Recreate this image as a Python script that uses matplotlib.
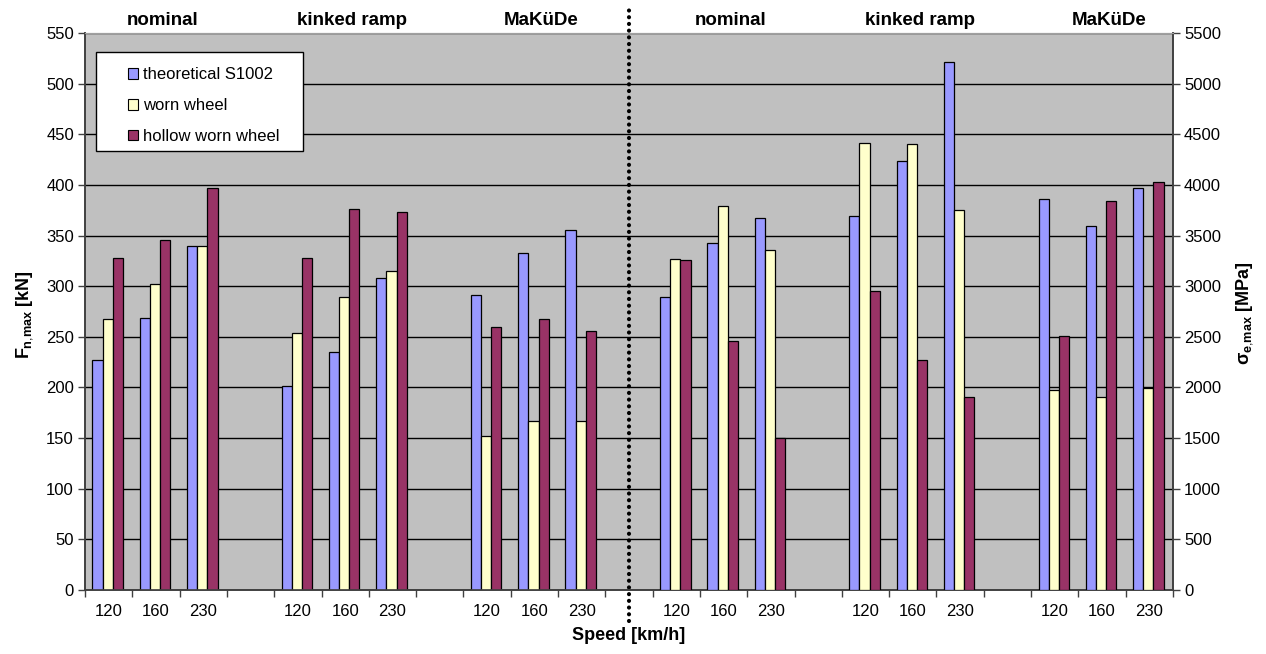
import matplotlib
matplotlib.use("Agg")
import matplotlib.pyplot as plt
import matplotlib.transforms as mtransforms
from matplotlib.patches import Rectangle, Patch
import numpy as np

plt.rcParams['font.family'] = ['Liberation Sans', 'DejaVu Sans']
plt.rcParams['mathtext.fontset'] = 'custom'
plt.rcParams['mathtext.rm'] = 'Liberation Sans'
plt.rcParams['mathtext.it'] = 'Liberation Sans:bold'
plt.rcParams['mathtext.bf'] = 'Liberation Sans:bold'

# data
blocks = ['nominal', 'kinked ramp', 'MaKüDe']
speeds = ['120', '160', '230']
series = ['theoretical S1002', 'worn wheel', 'hollow worn wheel']

# left half: F_n,max [kN]
fn_theo = [227, 269, 340, 201, 235, 308, 291, 333, 355]
fn_worn = [268, 302, 340, 254, 289, 315, 152, 167, 167]
fn_hollow = [328, 346, 397, 328, 376, 373, 260, 268, 256]

# right half: sigma_e,max [MPa]
sig_theo = [2890, 3430, 3670, 3690, 4235, 5210, 3865, 3595, 3970]
sig_worn = [3270, 3790, 3360, 4415, 4400, 3750, 1970, 1905, 1995]
sig_hollow = [3255, 2460, 1500, 2955, 2270, 1905, 2510, 3840, 4030]

colors = ['#9999FF', '#FFFFCC', '#993366']

W, H = 1266, 654
fig = plt.figure(figsize=(W / 100, H / 100), dpi=100)
fig.patch.set_facecolor('white')
L, R, T, B = 85, 1173, 33, 590
ax = fig.add_axes([L / W, 1 - B / H, (R - L) / W, (B - T) / H])
ax.set_facecolor('#C0C0C0')
ax2 = ax.twinx()

# slot positions: 3 speeds per block, one empty slot between blocks
slots_left = np.array([4 * b + j for b in range(3) for j in range(3)])
slots_right = slots_left + 12
bw = 0.215
offs = [-bw, 0, bw]

for k, vals in enumerate([fn_theo, fn_worn, fn_hollow]):
    ax.bar(slots_left + offs[k] - 0.02, vals, width=bw, color=colors[k],
           edgecolor='black', linewidth=0.9, zorder=3)
for k, vals in enumerate([sig_theo, sig_worn, sig_hollow]):
    ax2.bar(slots_right + offs[k] - 0.02, vals, width=bw, color=colors[k],
            edgecolor='black', linewidth=0.9, zorder=3)

ax.set_xlim(-0.5, 22.5)
ax.set_ylim(0, 550)
ax2.set_ylim(0, 5500)
ax.set_yticks(np.arange(0, 551, 50))
ax2.set_yticks(np.arange(0, 5501, 500))
ax.yaxis.grid(True, color='black', linewidth=1)
ax.set_axisbelow(True)

all_slots = np.concatenate([slots_left, slots_right])
ax.set_xticks(all_slots)
ax.set_xticklabels(speeds * 6)
ax.set_xticks(np.arange(-0.5, 23, 1), minor=True)
ax.tick_params(axis='x', which='major', length=0, labelsize=12, pad=10)
ax.tick_params(axis='x', which='minor', length=5, width=1, color='#404040')
ax.tick_params(axis='y', length=5, width=1, color='#404040', labelsize=12, pad=3)
ax2.tick_params(axis='y', length=5, width=1, color='#404040', labelsize=12, pad=3)

for a in (ax, ax2):
    for s in ('left', 'bottom', 'right'):
        a.spines[s].set_color('#404040')
        a.spines[s].set_linewidth(1.2)
    a.spines['top'].set_color('#A0A0A0')

# block titles
trans = mtransforms.blended_transform_factory(ax.transData, ax.transAxes)
for b in range(6):
    ax.text(4 * b + 1 + 0.15, 1.022, blocks[b % 3], transform=trans,
            ha='center', va='center', fontsize=13.5, fontweight='bold')

# dotted separator
ax.plot([11, 11], [-0.055, 1.05], transform=trans, clip_on=False,
        color='black', linewidth=3, linestyle=(0, (0.01, 1.6)),
        dash_capstyle='round', zorder=5)

# axis labels
fig.text(25 / W, 1 - 315 / H, r'$F_{n{,}max}$ [kN]', rotation=90,
         ha='center', va='center', fontsize=13, fontweight='bold')
fig.text(1245 / W, 1 - 313 / H, r'$σ_{e{,}max}$ [MPa]', rotation=90,
         ha='center', va='center', fontsize=13, fontweight='bold')
fig.text(629 / W, 1 - 635 / H, 'Speed [km/h]', ha='center', va='center',
         fontsize=13, fontweight='bold')

# legend with a manually drawn box
fig.patches.append(Rectangle((96 / W, 1 - 151 / H), 207 / W, 99 / H,
                             transform=fig.transFigure, facecolor='white',
                             edgecolor='black', linewidth=1, zorder=10))
handles = [Patch(facecolor=c, edgecolor='black', linewidth=0.8) for c in colors]
leg = fig.legend(handles, series, loc='upper left',
                 bbox_to_anchor=(115 / W, 1 - 54 / H), frameon=False,
                 fontsize=12, handlelength=0.6, handleheight=0.6,
                 handletextpad=0.3, labelspacing=0.95, borderpad=0.3)
leg.set_zorder(11)

fig.savefig('out.png', dpi=100)
